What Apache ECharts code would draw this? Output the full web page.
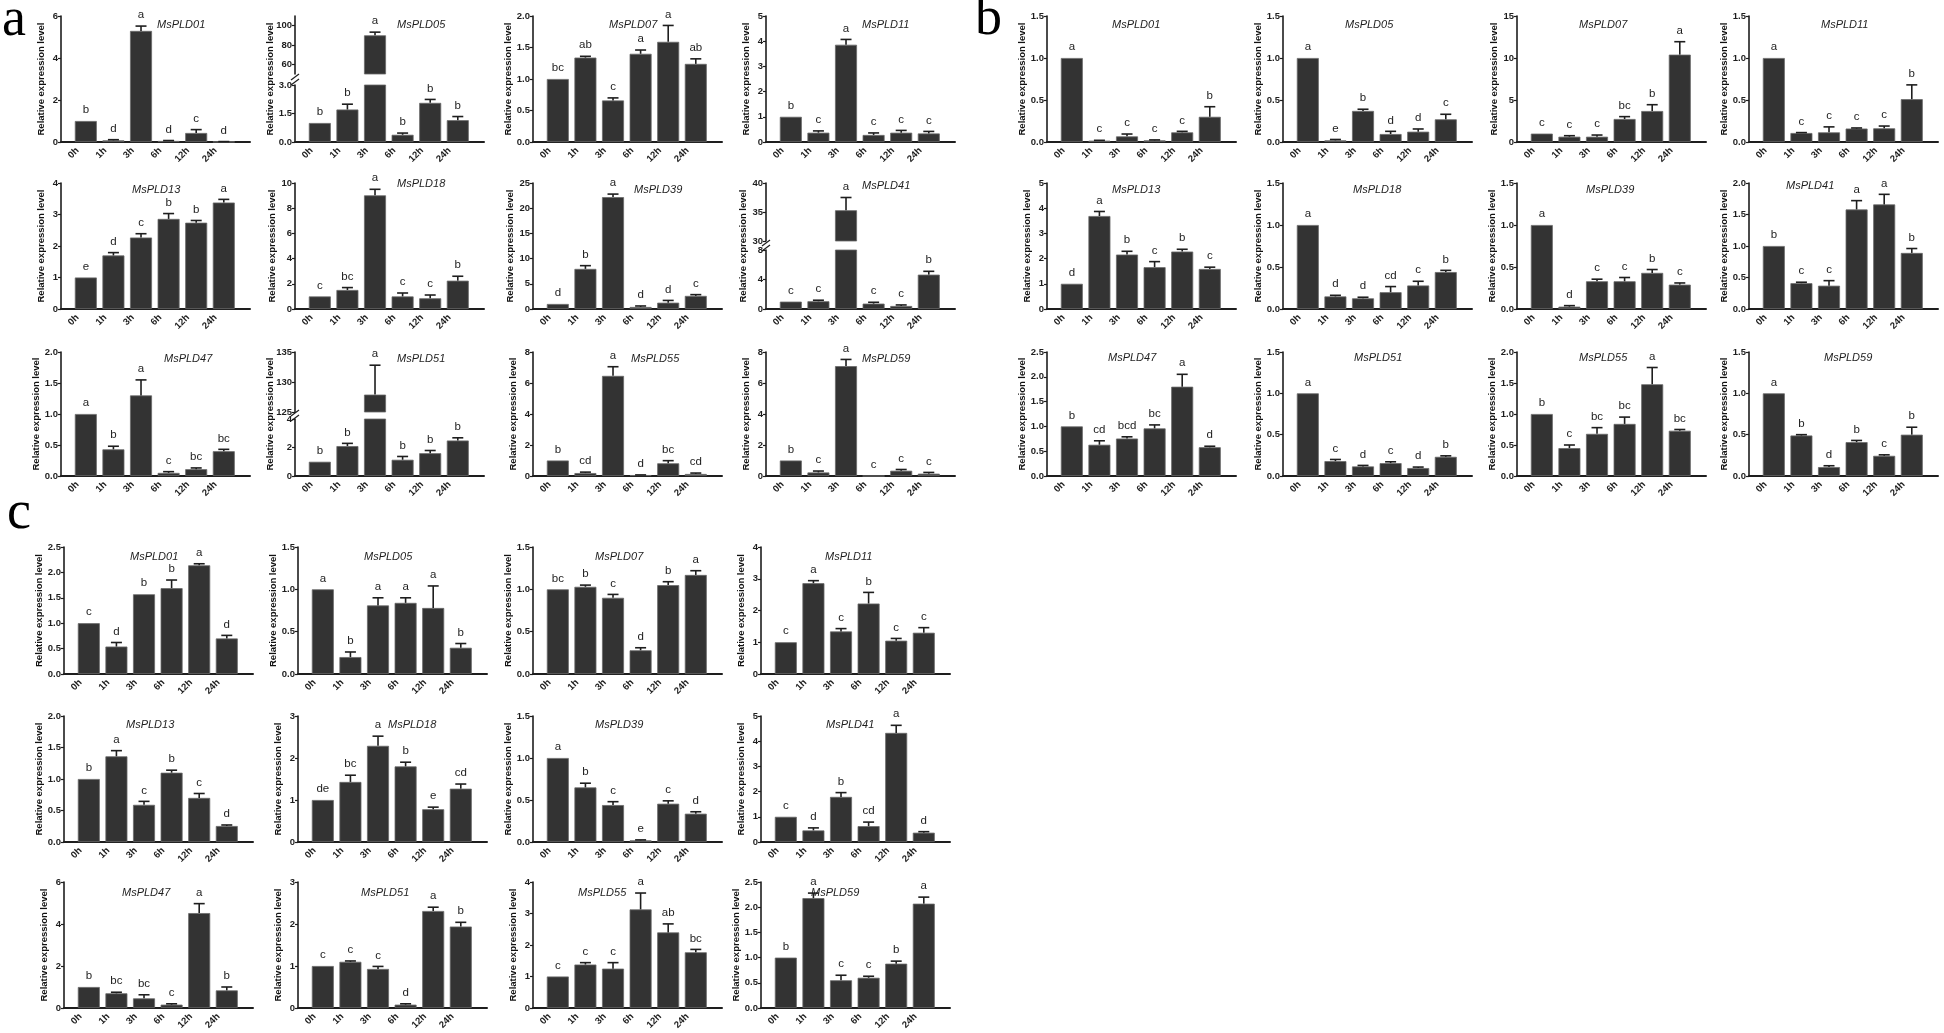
<!DOCTYPE html>
<html><head><meta charset="utf-8">
<script src="https://cdn.jsdelivr.net/npm/echarts@6/dist/echarts.min.js"></script>
<style>html,body{margin:0;padding:0;background:#fff}#c{width:1944px;height:1033px}</style>
</head><body><div id="c"></div>
<script>
// ---------------- DATA ----------------
const times = ['0h', '1h', '3h', '6h', '12h', '24h'];
const genes = ['MsPLD01','MsPLD05','MsPLD07','MsPLD11','MsPLD13','MsPLD18','MsPLD39','MsPLD41','MsPLD47','MsPLD51','MsPLD55','MsPLD59'];

// Panel a
const aMean = [
 [1.00, 0.08, 5.29, 0.05, 0.43, 0.01],
 [1.00, 1.71, 90.0, 0.38, 2.06, 1.15],
 [1.00, 1.34, 0.66, 1.40, 1.59, 1.24],
 [1.00, 0.37, 3.86, 0.28, 0.37, 0.34],
 [1.00, 1.70, 2.27, 2.86, 2.74, 3.38],
 [1.00, 1.51, 9.02, 1.00, 0.85, 2.25],
 [1.00, 7.96, 22.2, 0.40, 1.26, 2.60],
 [1.00, 1.05, 35.3, 0.73, 0.41, 4.66],
 [1.00, 0.43, 1.30, 0.05, 0.11, 0.40],
 [1.00, 2.10, 127.9, 1.14, 1.60, 2.49],
 [1.00, 0.19, 6.46, 0.06, 0.82, 0.13],
 [1.00, 0.23, 7.09, 0.00, 0.34, 0.15]
];
const aErr = [
 [0, 0.03, 0.23, 0.02, 0.16, 0.01],
 [0, 0.28, 3.3, 0.09, 0.18, 0.19],
 [0, 0.02, 0.04, 0.06, 0.26, 0.08],
 [0, 0.07, 0.21, 0.08, 0.09, 0.08],
 [0, 0.09, 0.12, 0.17, 0.07, 0.10],
 [0, 0.19, 0.48, 0.27, 0.26, 0.35],
 [0, 0.64, 0.60, 0.20, 0.44, 0.25],
 [0, 0.14, 2.2, 0.18, 0.14, 0.45],
 [0, 0.05, 0.25, 0.02, 0.02, 0.03],
 [0, 0.19, 4.9, 0.23, 0.19, 0.19],
 [0, 0.06, 0.59, 0.01, 0.17, 0.06],
 [0, 0.09, 0.43, 0.00, 0.08, 0.08]
];
const aLetters = [
 ['b','d','a','d','c','d'], ['b','b','a','b','b','b'], ['bc','ab','c','a','a','ab'], ['b','c','a','c','c','c'],
 ['e','d','c','b','b','a'], ['c','bc','a','c','c','b'], ['d','b','a','d','d','c'], ['c','c','a','c','c','b'],
 ['a','b','a','c','bc','bc'], ['b','b','a','b','b','b'], ['b','cd','a','d','bc','cd'], ['b','c','a','c','c','c']
];
const aYMax  = [6, null, 2, 5, 4, 10, 25, null, 2, null, 8, 8];
const aYStep = [2, null, 0.5, 1, 1, 2, 5, null, 0.5, null, 2, 2];
// broken axes: low = [max, step], high = [min, max], highTicks
const aBreaks = {
 1: {low: [3, 1.5], high: [50, 110], highTicks: [60, 80, 100]},
 7: {low: [8, 4],   high: [30, 40],  highTicks: [30, 35, 40]},
 9: {low: [4, 2],   high: [125, 135], highTicks: [125, 130, 135]}
};

// Panel b
const bMean = [
 [1.00, 0.016, 0.067, 0.02, 0.115, 0.30],
 [1.00, 0.02, 0.37, 0.095, 0.123, 0.27],
 [1.00, 0.63, 0.63, 2.74, 3.69, 10.4],
 [1.00, 0.107, 0.115, 0.16, 0.163, 0.51],
 [1.00, 3.69, 2.16, 1.66, 2.28, 1.59],
 [1.00, 0.15, 0.127, 0.20, 0.28, 0.44],
 [1.00, 0.028, 0.33, 0.33, 0.43, 0.29],
 [1.00, 0.41, 0.37, 1.58, 1.66, 0.89],
 [1.00, 0.63, 0.755, 0.96, 1.80, 0.58],
 [1.00, 0.18, 0.116, 0.156, 0.096, 0.232],
 [1.00, 0.45, 0.68, 0.84, 1.48, 0.73],
 [1.00, 0.49, 0.108, 0.41, 0.244, 0.50]
];
const bErr = [
 [0, 0.004, 0.028, 0.005, 0.012, 0.12],
 [0, 0.01, 0.02, 0.032, 0.032, 0.06],
 [0, 0.12, 0.20, 0.28, 0.75, 1.54],
 [0, 0.005, 0.065, 0.007, 0.027, 0.17],
 [0, 0.18, 0.13, 0.22, 0.09, 0.07],
 [0, 0.013, 0.013, 0.067, 0.05, 0.02],
 [0, 0.012, 0.025, 0.045, 0.04, 0.02],
 [0, 0.015, 0.08, 0.14, 0.16, 0.07],
 [0, 0.08, 0.035, 0.07, 0.25, 0.02],
 [0, 0.02, 0.012, 0.016, 0.012, 0.012],
 [0, 0.05, 0.10, 0.11, 0.27, 0.02],
 [0, 0.01, 0.016, 0.02, 0.012, 0.09]
];
const bLetters = [
 ['a','c','c','c','c','b'], ['a','e','b','d','d','c'], ['c','c','c','bc','b','a'], ['a','c','c','c','c','b'],
 ['d','a','b','c','b','c'], ['a','d','d','cd','c','b'], ['a','d','c','c','b','c'], ['b','c','c','a','a','b'],
 ['b','cd','bcd','bc','a','d'], ['a','c','d','c','d','b'], ['b','c','bc','bc','a','bc'], ['a','b','d','b','c','b']
];
const bYMax  = [1.5, 1.5, 15, 1.5, 5, 1.5, 1.5, 2.0, 2.5, 1.5, 2.0, 1.5];
const bYStep = [0.5, 0.5, 5, 0.5, 1, 0.5, 0.5, 0.5, 0.5, 0.5, 0.5, 0.5];

// Panel c
const cMean = [
 [1.00, 0.54, 1.57, 1.69, 2.14, 0.70],
 [1.00, 0.20, 0.81, 0.84, 0.78, 0.31],
 [1.00, 1.03, 0.90, 0.28, 1.05, 1.17],
 [1.00, 2.86, 1.34, 2.22, 1.05, 1.30],
 [1.00, 1.36, 0.59, 1.10, 0.70, 0.254],
 [1.00, 1.43, 2.29, 1.80, 0.78, 1.27],
 [1.00, 0.65, 0.44, 0.02, 0.456, 0.337],
 [1.00, 0.46, 1.79, 0.63, 4.33, 0.37],
 [1.00, 0.70, 0.46, 0.16, 4.52, 0.84],
 [1.00, 1.10, 0.93, 0.08, 2.31, 1.94],
 [1.00, 1.38, 1.25, 3.13, 2.40, 1.77],
 [1.00, 2.18, 0.55, 0.60, 0.88, 2.07]
];
const cErr = [
 [0, 0.08, 0, 0.16, 0.03, 0.06],
 [0, 0.06, 0.09, 0.06, 0.26, 0.05],
 [0, 0.02, 0.04, 0.03, 0.04, 0.05],
 [0, 0.08, 0.09, 0.35, 0.07, 0.16],
 [0, 0.09, 0.055, 0.04, 0.07, 0.016],
 [0, 0.16, 0.23, 0.10, 0.05, 0.11],
 [0, 0.05, 0.04, 0.005, 0.034, 0.023],
 [0, 0.10, 0.17, 0.16, 0.30, 0.04],
 [0, 0.05, 0.17, 0.04, 0.45, 0.16],
 [0, 0.02, 0.06, 0.02, 0.09, 0.10],
 [0, 0.06, 0.19, 0.52, 0.27, 0.09],
 [0, 0.10, 0.10, 0.03, 0.05, 0.13]
];
const cLetters = [
 ['c','d','b','b','a','d'], ['a','b','a','a','a','b'], ['bc','b','c','d','b','a'], ['c','a','c','b','c','c'],
 ['b','a','c','b','c','d'], ['de','bc','a','b','e','cd'], ['a','b','c','e','c','d'], ['c','d','b','cd','a','d'],
 ['b','bc','bc','c','a','b'], ['c','c','c','d','a','b'], ['c','c','c','a','ab','bc'], ['b','a','c','c','b','a']
];
const cYMax  = [2.5, 1.5, 1.5, 4, 2.0, 3, 1.5, 5, 6, 3, 4, 2.5];
const cYStep = [0.5, 0.5, 0.5, 1, 0.5, 1, 0.5, 1, 2, 1, 1, 0.5];

const yTitle = 'Relative expression level';

// ---------------- LAYOUT ----------------
const ROWS_AB = [[16,142],[183,309],[352,476]];
const LAYOUT = {
 a: {label: 'a', labelX: 2, labelY: -6, cols: [61, 295, 533, 766], rows: ROWS_AB,
     titleDx: [96, 102, 76, 96, 71, 102, 101, 96, 103, 102, 98, 96],
     titleDy: [9, 9, 9, 9, 7, 1, 7, 3, 7, 7, 7, 7],
     breakLayout: {1: {upH: 58, gap: 11}, 7: {upH: 58, gap: 9}, 9: {upH: 60, gap: 7}}},
 b: {label: 'b', labelX: 975, labelY: -7, cols: [1047, 1283, 1517, 1749], rows: ROWS_AB,
     titleDx: [65, 62, 62, 72, 65, 70, 69, 37, 61, 71, 62, 75],
     titleDy: [9, 9, 9, 9, 7, 7, 7, 3, 6, 6, 6, 6], breakLayout: {}},
 c: {label: 'c', labelX: 7, labelY: 487, cols: [64, 298, 533, 761], rows: [[547,674],[716,842],[882,1008]],
     titleDx: [66, 66, 62, 64, 62, 90, 62, 65, 58, 63, 45, 50],
     titleDy: [10, 10, 10, 10, 9, 9, 9, 9, 11, 11, 11, 11], breakLayout: {}}
};
const PLOT_W = 189, XMIN = -0.9, XMAX = 5.95, BAR_W = 22, LABEL_SHIFT = 0.3;

const PANELS = [
 {L: LAYOUT.a, mean: aMean, err: aErr, letters: aLetters, ymax: aYMax, ystep: aYStep, breaks: aBreaks},
 {L: LAYOUT.b, mean: bMean, err: bErr, letters: bLetters, ymax: bYMax, ystep: bYStep, breaks: {}},
 {L: LAYOUT.c, mean: cMean, err: cErr, letters: cLetters, ymax: cYMax, ystep: cYStep, breaks: {}}
];

const INK = '#1e1e1e';
const BAR = '#333333';
const SANS = '"Liberation Sans", Arial, sans-serif';

const option = {animation: false, backgroundColor: '#fff', grid: [], xAxis: [], yAxis: [], series: [], title: [], graphic: []};

function decOf(step) { return Math.abs(step - Math.round(step)) < 1e-9 ? 0 : 1; }

function makeRender(letters, lo, hi) {
  return function (params, api) {
    const j = api.value(0), m = api.value(1), e = api.value(2);
    const t = m + e;
    if (t < lo - 1e-9 || t > hi + 1e-9) return {type: 'group', children: []};
    const base = api.coord([j, Math.max(m, lo)]);
    const top = api.coord([j, t]);
    const ch = [];
    if (e > 0) {
      ch.push({type: 'line', shape: {x1: top[0], y1: base[1], x2: top[0], y2: top[1]}, style: {stroke: INK, lineWidth: 1.6}});
      ch.push({type: 'line', shape: {x1: top[0] - 5.5, y1: top[1], x2: top[0] + 5.5, y2: top[1]}, style: {stroke: INK, lineWidth: 1.6}});
    }
    ch.push({type: 'text', style: {text: letters[params.dataIndex], x: top[0], y: top[1] - 5,
      align: 'center', verticalAlign: 'bottom', fontSize: 11.5, fontFamily: SANS, fill: INK}});
    return {type: 'group', children: ch};
  };
}

function addSegment(P, i, left, top, height, seg, showX, withName, nameGap) {
  const gi = option.grid.length;
  option.grid.push({left: left, top: top, width: PLOT_W, height: height, containLabel: false, outerBoundsMode: 'none'});
  const xi = option.xAxis.length;
  option.xAxis.push({
    gridIndex: gi, type: 'value', position: 'bottom', min: XMIN, max: XMAX, show: showX,
    axisLine: {show: true, onZero: false, lineStyle: {color: INK, width: 2}},
    axisTick: {show: false}, splitLine: {show: false}, axisLabel: {show: false}
  });
  if (showX) {
    // tick-label axis (labels sit slightly left of the bar centre, as in the figure)
    option.xAxis.push({
      gridIndex: gi, type: 'value', position: 'bottom', min: XMIN + LABEL_SHIFT, max: XMAX + LABEL_SHIFT,
      axisLine: {show: false, onZero: false}, axisTick: {show: false}, splitLine: {show: false},
      axisLabel: {show: true, customValues: [0, 1, 2, 3, 4, 5], formatter: v => times[Math.round(v)] || '',
        rotate: 45, margin: 7, fontSize: 9.5, fontWeight: 'bold', fontFamily: SANS, color: INK}
    });
  }
  const yi = option.yAxis.length;
  const y = {
    gridIndex: gi, type: 'value', min: seg.min, max: seg.max,
    axisLine: {show: true, onZero: false, lineStyle: {color: INK, width: 1.6}},
    axisTick: {show: true, length: 3, lineStyle: {color: INK, width: 1.2}},
    splitLine: {show: false},
    axisLabel: {fontSize: 9.5, fontWeight: 'bold', fontFamily: SANS, color: INK, margin: 3,
      formatter: v => Number(v).toFixed(seg.dec)}
  };
  if (seg.ticks) { y.axisLabel.customValues = seg.ticks; y.axisTick.customValues = seg.ticks; }
  else { y.interval = seg.step; }
  if (withName) {
    y.name = yTitle; y.nameLocation = 'middle'; y.nameGap = nameGap;
    y.nameTextStyle = {fontSize: 9.5, fontWeight: 'bold', fontFamily: SANS, color: '#111'};
  }
  option.yAxis.push(y);
  option.series.push({type: 'bar', xAxisIndex: xi, yAxisIndex: yi, barWidth: BAR_W, clip: true, silent: true,
    itemStyle: {color: BAR, borderColor: '#6a6a6a', borderWidth: 0.8}, data: P.mean[i].map((v, j) => [j, v])});
  option.series.push({type: 'custom', xAxisIndex: xi, yAxisIndex: yi, silent: true, encode: {x: 0, y: 1}, z: 5,
    data: P.mean[i].map((v, j) => [j, v, P.err[i][j]]),
    renderItem: makeRender(P.letters[i], seg.min, seg.max)});
}

function nameGapFor(labels) {
  const n = Math.max.apply(null, labels.map(s => s.length));
  return 12 + n * 2.6;
}

PANELS.forEach(P => {
  const L = P.L;
  option.graphic.push({type: 'text', left: L.labelX, top: L.labelY,
    style: {text: L.label, font: '54px "Liberation Serif", "Times New Roman", serif', fill: '#000'}});
  for (let i = 0; i < 12; i++) {
    const row = Math.floor(i / 4), col = i % 4;
    const left = L.cols[col], top = L.rows[row][0], bottom = L.rows[row][1];
    option.title.push({text: genes[i], left: left + L.titleDx[i], top: top + L.titleDy[i] - 6, padding: 0,
      textStyle: {fontSize: 11, fontStyle: 'italic', fontWeight: 'normal', fontFamily: SANS, color: INK}});
    const br = P.breaks[i];
    if (!br) {
      const dec = decOf(P.ystep[i]);
      const labels = [];
      for (let v = 0; v <= P.ymax[i] + 1e-9; v += P.ystep[i]) labels.push(v.toFixed(dec));
      addSegment(P, i, left, top, bottom - top,
        {min: 0, max: P.ymax[i], step: P.ystep[i], dec: dec}, true, true, nameGapFor(labels));
    } else {
      const bl = L.breakLayout[i];
      const lowDec = decOf(br.low[1]);
      const labels = br.highTicks.map(v => v.toFixed(0));
      for (let v = 0; v <= br.low[0] + 1e-9; v += br.low[1]) labels.push(v.toFixed(lowDec));
      const gap = nameGapFor(labels);
      addSegment(P, i, left, top, bl.upH,
        {min: br.high[0], max: br.high[1], ticks: br.highTicks, dec: 0}, false, false, 0);
      const lowTop = top + bl.upH + bl.gap;
      addSegment(P, i, left, lowTop, bottom - lowTop,
        {min: 0, max: br.low[0], step: br.low[1], dec: lowDec}, true, false, 0);
      // hidden full-height axis carrying only the y-axis title
      const gi = option.grid.length;
      option.grid.push({left: left, top: top, width: PLOT_W, height: bottom - top, containLabel: false, outerBoundsMode: 'none'});
      option.xAxis.push({gridIndex: gi, type: 'value', show: false, min: 0, max: 1});
      option.yAxis.push({gridIndex: gi, type: 'value', min: 0, max: 1, axisLine: {show: false}, axisTick: {show: false},
        axisLabel: {show: false}, splitLine: {show: false}, name: yTitle, nameLocation: 'middle', nameGap: gap,
        nameTextStyle: {fontSize: 9.5, fontWeight: 'bold', fontFamily: SANS, color: '#111'}});
      // axis break marks
      const yc = top + bl.upH + bl.gap / 2;
      [-2.5, 2.5].forEach(d => {
        option.graphic.push({type: 'line', shape: {x1: left - 4, y1: yc + d + 3, x2: left + 4, y2: yc + d - 3},
          style: {stroke: INK, lineWidth: 1.2}});
      });
    }
  }
});

const chart = echarts.init(document.getElementById('c'), null, {renderer: 'canvas'});
chart.setOption(option);
</script>
</body></html>
